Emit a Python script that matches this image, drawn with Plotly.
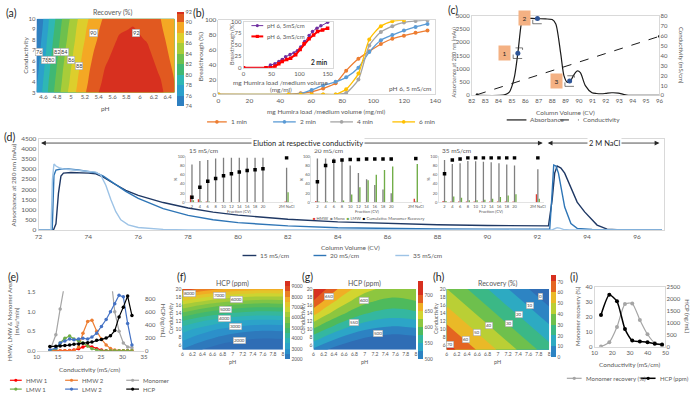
import plotly.graph_objects as go

W, H = 700, 398
def px_x(v): return v / W
def px_y(v): return 1 - v / H
def dx(a, b): return [a / W, b / W]
def dy(t, b): return [1 - b / H, 1 - t / H]

FONT = "Lato, 'Liberation Sans', sans-serif"
TXT = "#595959"
BOX = "#d0d0d0"

CS = [[0.0, '#2f6db5'], [0.14, '#2b9bd1'], [0.28, '#2fb7b4'], [0.42, '#45b860'],
      [0.56, '#8cc63f'], [0.7, '#d9d62e'], [0.84, '#f5a623'], [1.0, '#d7301f']]

# ---------------- (a) recovery surface ----------------
a_ph = [4.5, 4.7, 4.9, 5.1, 5.3, 5.5, 5.7, 5.9, 6.1, 6.3, 6.5]
a_cond = [3, 4, 5, 6, 7, 8, 9, 10]
a_recovery = [
    [76.0, 80.9, 85.1, 88.5, 91.1, 92.9, 93.9, 94.2, 93.7, 92.4, 90.4],
    [75.7, 80.6, 84.7, 88.1, 90.7, 92.5, 93.6, 93.8, 93.3, 92.1, 90.0],
    [75.3, 80.2, 84.4, 87.8, 90.4, 92.2, 93.2, 93.5, 93.0, 91.7, 89.7],
    [75.0, 79.9, 84.0, 87.4, 90.0, 91.8, 92.9, 93.1, 92.6, 91.4, 89.3],
    [74.6, 79.5, 83.7, 87.1, 89.7, 91.5, 92.5, 92.8, 92.3, 91.0, 89.0],
    [74.3, 79.2, 83.3, 86.7, 89.3, 91.1, 92.2, 92.4, 91.9, 90.7, 88.6],
    [73.9, 78.8, 83.0, 86.4, 89.0, 90.8, 91.8, 92.1, 91.6, 90.3, 88.3],
    [73.6, 78.5, 82.6, 86.0, 88.6, 90.4, 91.5, 91.7, 91.2, 90.0, 87.9],
]
a_label_text = ['76', '78', '80', '82', '84', '86', '88', '90', '92']
a_label_at = [(4.54, 6.83), (4.625, 6.1), (4.72, 6.1), (4.79, 6.8), (4.9, 6.8),
              (5.0, 6.05), (5.12, 5.5), (5.32, 8.66), (5.94, 8.66)]

# ---------------- (b) breakthrough ----------------
b_load = [0, 45.3, 53.1, 60.2, 67.6, 75.7, 82.5, 90.4, 97.4, 104.9, 112.3, 119.8, 127.3, 135]
b_1min = [0, 0, 1.5, 3.5, 8, 15, 32, 48, 58, 68, 75, 79, 83, 86]
b_2min = [0, 0, 1, 6, 12, 17, 23, 36, 57, 73, 80, 86, 91, 95]
b_4min = [0, 0, 0, 0, 0, 0, 2, 20, 66, 84, 92, 97, 99, 100]
b_6min = [0, 0, 0, 0, 0, 0, 7, 28, 74, 92, 98.5, 100, None, None]
inset_x_5ms = [0, 40, 48, 56, 63, 69, 75, 83, 90, 96, 102, 109, 117, 123, 131, 138, 150]
inset_y_5ms = [0, 0, 6, 9, 14, 18, 24, 29, 32, 37, 45, 57, 70, 79, 86, 91, 98.6]
inset_x_3ms = [0, 40, 48, 56, 63, 69, 77, 84, 93, 101, 108, 117, 125, 132, 141, 150]
inset_y_3ms = [0, 0, 0, 3.5, 9, 14, 18, 21, 28.5, 40, 52, 63, 71, 78.5, 82, 86]

# ---------------- (c) elution profile ----------------
c_cv = [82.4, 84.1, 84.5, 84.8, 85.0, 85.2, 85.44, 85.69, 85.8, 86.0, 86.5, 87.0, 87.5, 88.0,
        88.27, 88.63, 88.88, 89.13, 89.37, 89.6, 89.86, 90.1, 90.47, 90.97, 91.3, 91.7, 92.0,
        92.44, 92.93, 93.3, 93.67, 94.5, 96]
c_abs = [0, 0, 30, 120, 350, 735, 1590, 2690, 2880, 2910, 2900, 2890, 2880, 2860,
         2690, 1590, 735, 490, 550, 760, 918, 857, 367, 98, 70, 61, 75,
         98, 86, 40, 0, 0, 0]
c_cond_cv = [82.4, 96]
c_cond = [0.7, 59.4]
c_pt_cv = [85.44, 86.9, 89.3]
c_pt_abs = [1590, 2900, 540]
c_pt_label = ['1', '2', '3']

# ---------------- (d) chromatograms ----------------
d15_x = [72, 72.6, 72.7, 72.8, 72.9, 73.0, 73.3, 73.6, 74.0, 74.3, 74.6, 75.0, 75.5, 76, 77, 78,
         79, 80, 81, 82, 84, 86, 88, 90, 92, 92.45, 92.6, 92.7, 92.8, 92.95, 93.1, 93.35, 93.6,
         93.9, 94.2, 94.4, 94.8, 95.2, 97]
d15_y = [0, 0, 300, 1800, 2650, 2800, 2830, 2830, 2800, 2760, 2600, 2300, 1950, 1700, 1350, 1080,
         880, 730, 620, 530, 400, 320, 260, 220, 200, 200, 1500, 2800, 3150, 3050, 2800, 2100, 1370,
         890, 520, 240, 40, 10, 0]
d20_x = [72, 72.55, 72.62, 72.7, 72.9, 73.2, 73.6, 74.0, 74.3, 74.6, 75.0, 75.5, 76, 77, 78, 79,
         80, 82, 84, 86, 88, 90, 92, 92.5, 92.58, 92.66, 92.75, 92.85, 93.1, 93.35, 93.6, 94.2, 97]
d20_y = [0, 0, 2700, 2950, 3000, 3000, 2950, 2880, 2820, 2650, 2300, 1900, 1550, 1050, 720, 500,
         360, 200, 110, 70, 50, 40, 35, 35, 1500, 3200, 3150, 2800, 1130, 320, 80, 20, 0]
d35_x = [72, 72.5, 72.56, 72.62, 72.7, 72.85, 73.0, 73.5, 74.0, 74.3, 74.5, 74.7, 74.9, 75.1,
         75.3, 75.6, 76, 76.5, 77, 78, 92.6, 92.7, 92.8, 92.9, 93.05, 93.3, 97]
d35_y = [0, 0, 2500, 3250, 3150, 3050, 3000, 2950, 2900, 2850, 2700, 2200, 1500, 900,
         500, 250, 120, 60, 30, 0, 0, 60, 110, 90, 30, 0, 0]

fraction_pos = [2, 4, 6, 8, 10, 12, 14, 16, 18, 20, 26]
fraction_lab = ['2', '4', '6', '8', '10', '12', '14', '16', '18', '20', '2M NaCl']
ins15_hmw = [15, 7, 2, 1, 1, 1, 1, 1, 1, 1, 2]
ins15_mono = [82, 90, 92, 95, 97, 97, 97, 97, 97, 97, 75]
ins15_lmw = [5, 2, 2, 1, 1, 1, 1, 1, 1, 1, 22]
ins15_cum = [11, 33, 46, 52, 58, 62, 66, 69, 71, 73, 97]
ins20_hmw = [3, 1, 1, 1, 1, 1, 1, 1, 1, 1, 8]
ins20_mono = [95, 95, 95, 93, 80, 64, 50, 38, 28, 20, 2]
ins20_lmw = [2, 2, 2, 4, 17, 33, 48, 60, 70, 78, 83]
ins20_cum = [45, 80, 89, 92, 93, 93, 94, 94, 94, 94, 95]
ins35_hmw = [3, 2, 2, 2, 2, 2, 2, 2, 2, 2, 18]
ins35_mono = [92, 83, 85, 90, 89, 88, 87, 85, 82, 80, 72]
ins35_lmw = [3, 13, 10, 5, 5, 6, 8, 12, 15, 18, 8]
ins35_cum = [62, 92, 94, 97, 97, 97, 97, 97, 97, 97, 97]

# ---------------- (e) fraction analysis ----------------
e_cond = [13.1, 14.5, 15.5, 16.6, 17.7, 18.7, 19.8, 20.8, 21.9, 22.9, 24.0, 25.1, 26.2,
          27.2, 28.2, 29.2, 30.2, 31.2, 32.2]
e_hmw1 = [0, 0, 0, 0, 0.01, 0.02, 0.05, 0.1, 0.13, 0.1, 0.05, 0.02, 0, 0, 0, 0, 0, 0, 0]
e_hmw2 = [0, 0, 0, 0, 0, 0, 0.1, 0.45, 0.75, 0.78, 0.5, 0.3, 0.15, 0.06, 0.02, 0, 0, 0, 0]
e_mono = [0, 0.41, 1.07, 2.0, 3.5, 4.5, 5.0, 5.0, 5.0, 4.8, 4.5, 4.0, 3.2, 2.0, 1.0, 0.5, 0.2, 0.1, 0.08]
e_lmw1 = [0, 0.05, 0.2, 0.32, 0.38, 0.3, 0.25, 0.2, 0.12, 0.05, 0.02, 0, 0, 0, 0, 0, 0, 0, 0]
e_lmw2 = [0.02, 0.07, 0.2, 0.25, 0.3, 0.28, 0.3, 0.32, 0.3, 0.35, 0.45, 0.62, 0.8, 1.0, 1.2, 1.42, 1.38, 0.7, 0.15]
e_hcp = [65, 70, 75, 82, 88, 100, 105, 115, 125, 135, 160, 175, 195, 230, 310, 520, 670, 840, 540]

# ---------------- (f) HCP surface ----------------
fg_ph = [6, 6.25, 6.5, 6.75, 7, 7.25, 7.5, 7.75, 8]
f_cond = [5, 6, 8, 10, 12, 14, 16, 18, 20]
f_hcp = [
    [2456, 2141, 1876, 1661, 1496, 1381, 1316, 1301, 1336],
    [2706, 2391, 2126, 1911, 1746, 1631, 1566, 1551, 1586],
    [3206, 2891, 2626, 2411, 2246, 2131, 2066, 2051, 2086],
    [3736, 3421, 3156, 2941, 2776, 2661, 2596, 2581, 2616],
    [4456, 4141, 3876, 3661, 3496, 3381, 3316, 3301, 3336],
    [5406, 5091, 4826, 4611, 4446, 4331, 4266, 4251, 4286],
    [6406, 6091, 5826, 5611, 5446, 5331, 5266, 5251, 5286],
    [7556, 7241, 6976, 6761, 6596, 6481, 6416, 6401, 6436],
    [8856, 8541, 8276, 8061, 7896, 7781, 7716, 7701, 7736],
]
f_label_text = ['8000', '7000', '6000', '5000', '4000', '3000', '2000']
f_label_at = [(6.14, 18.8), (6.73, 18.3), (7.08, 17.3), (6.86, 14.9), (6.84, 12.75), (7.06, 10.8), (7.14, 7.4)]

# ---------------- (g) HCP surface ----------------
g_cond = [5, 8, 11, 14, 17, 20]
g_hcp = [
    [519, 501, 485, 473, 464, 458, 455, 456, 459],
    [564, 543, 525, 511, 500, 494, 490, 491, 495],
    [612, 588, 568, 552, 540, 532, 528, 529, 533],
    [659, 631, 609, 591, 577, 569, 564, 565, 570],
    [698, 668, 643, 623, 608, 598, 593, 594, 600],
    [733, 700, 672, 651, 634, 624, 618, 619, 625],
]
g_label_text = ['650', '600', '550', '500']
g_label_at = [(6.31, 18.1), (6.98, 17.1), (6.79, 11.8), (7.25, 8.9)]

# ---------------- (h) recovery surface ----------------
h_ph = [6, 7, 8]
h_cond = [5, 12.5, 20]
h_rec = [
    [74.4, 49.3, 24.3],
    [57.3, 32.2, 7.2],
    [40.2, 15.1, -9.9],
]
h_label_text = ['70', '60', '50', '40', '30', '20', '10', '0']
h_label_at = [(6.06, 6.3), (6.37, 7.5), (6.6, 9.2), (6.83, 10.9), (7.21, 11.4), (7.42, 13.7), (7.63, 15.9), (7.83, 18.1)]

# ---------------- (i) ----------------
i_cond = [13.7, 18.4, 22.7, 27.2, 31.3, 35.6, 39.9, 44.0, 48.1]
i_monomer = [0.2, 3.1, 13.2, 28.6, 29.0, 18.0, 8.4, 2.6, 0.9]
i_hcp = [1330, 2170, 1900, 740, 260, 220, 190, 125, 95]

fig = go.Figure()

def tf(size):
    return dict(size=size, color=TXT, family=FONT)

def cbar(x, yc, length, ticks, size=5.5, thick=6):
    return dict(x=px_x(x), xanchor='left', xpad=0, y=px_y(yc), yanchor='middle', ypad=0,
                len=length / H, lenmode='fraction', thickness=thick, thicknessmode='pixels',
                tickvals=ticks, tickfont=tf(size), outlinewidth=0, ticks='')

# (a)
fig.add_trace(go.Contour(x=a_ph, y=a_cond, z=a_recovery, xaxis='x', yaxis='y', name='Recovery (%)',
    colorscale=CS, zmin=74, zmax=92, autocontour=False,
    contours=dict(start=74, end=92, size=2, coloring='fill', showlines=False),
    line=dict(width=0, smoothing=1.0), hoverinfo='skip',
    colorbar=cbar(175, 56, 96, list(range(74, 93, 2)), 5.5, 7)))

# (b)
B_COLORS = {'1 min': '#ed7d31', '2 min': '#5b9bd5', '4 min': '#a5a5a5', '6 min': '#ffc000'}
for name, ys in [('1 min', b_1min), ('2 min', b_2min), ('4 min', b_4min), ('6 min', b_6min)]:
    col = B_COLORS[name]
    fig.add_trace(go.Scatter(x=b_load, y=ys, xaxis='x2', yaxis='y2', mode='lines+markers', name=name,
        line=dict(color=col, width=1.3, shape='spline', smoothing=0.6), marker=dict(size=4, color=col)))
fig.add_trace(go.Scatter(x=inset_x_5ms, y=inset_y_5ms, xaxis='x3', yaxis='y3', mode='lines+markers',
    name='pH 6, 5mS/cm', line=dict(color='#7030a0', width=1), marker=dict(size=3.5, color='#7030a0')))
fig.add_trace(go.Scatter(x=inset_x_3ms, y=inset_y_3ms, xaxis='x3', yaxis='y3', mode='lines+markers',
    name='pH 6, 3mS/cm', line=dict(color='#ff0000', width=2), marker=dict(size=3.5, color='#ff0000', symbol='square')))

# (c)
fig.add_trace(go.Scatter(x=c_cv, y=c_abs, xaxis='x4', yaxis='y4', mode='lines', name='Absorbance',
    line=dict(color='#1a1a1a', width=1.2, shape='spline', smoothing=0.7)))
fig.add_trace(go.Scatter(x=c_cond_cv, y=c_cond, xaxis='x4', yaxis='y5', mode='lines+markers', name='Conductivity',
    line=dict(color='#1a1a1a', width=1, dash='dash'), marker=dict(size=3, color='#1a1a1a')))
fig.add_trace(go.Scatter(x=c_pt_cv, y=c_pt_abs, xaxis='x4', yaxis='y4', mode='markers', name='fractions',
    marker=dict(size=5, color='#2f5597')))

# (d)
D_COLORS = {'15 mS/cm': '#1f3864', '20 mS/cm': '#2e75b6', '35 mS/cm': '#9dc3e6'}
for name, xs, ys in [('15 mS/cm', d15_x, d15_y), ('20 mS/cm', d20_x, d20_y), ('35 mS/cm', d35_x, d35_y)]:
    fig.add_trace(go.Scatter(x=xs, y=ys, xaxis='x5', yaxis='y6', mode='lines', name=name,
        line=dict(color=D_COLORS[name], width=1.4)))

insets = [(ins15_hmw, ins15_mono, ins15_lmw, ins15_cum), (ins20_hmw, ins20_mono, ins20_lmw, ins20_cum),
          (ins35_hmw, ins35_mono, ins35_lmw, ins35_cum)]
for k, (hm, mo, lm, cu) in enumerate(insets):
    xa, ya = 'x%d' % (6 + k), 'y%d' % (7 + k)
    for ys, col, nm in [(hm, '#e03c31', 'HMW'), (mo, '#7f7f7f', 'Mono'), (lm, '#70ad47', 'LMW')]:
        fig.add_trace(go.Bar(x=fraction_pos, y=ys, xaxis=xa, yaxis=ya, marker=dict(color=col, line=dict(width=0)),
                             name=nm))
    fig.add_trace(go.Scatter(x=fraction_pos, y=cu, xaxis=xa, yaxis=ya, mode='markers',
                             name='Cumulative Monomer Recovery', marker=dict(size=3.5, color='black', symbol='square')))

# (e)
E_COLORS = {'HMW 1': '#ff0000', 'HMW 2': '#ed7d31', 'Monomer': '#a5a5a5', 'LMW 1': '#70ad47',
            'LMW 2': '#4472c4', 'HCP': '#000000'}
for name, ys in [('HMW 1', e_hmw1), ('HMW 2', e_hmw2), ('Monomer', e_mono), ('LMW 1', e_lmw1), ('LMW 2', e_lmw2)]:
    col = E_COLORS[name]
    fig.add_trace(go.Scatter(x=e_cond, y=ys, xaxis='x9', yaxis='y10', mode='lines+markers', name=name,
        line=dict(color=col, width=1.2), marker=dict(size=3.5, color=col)))
fig.add_trace(go.Scatter(x=e_cond, y=e_hcp, xaxis='x9', yaxis='y11', mode='lines+markers', name='HCP',
    line=dict(color='black', width=1.2), marker=dict(size=3.5, color='black')))

# (f) (g) (h)
fig.add_trace(go.Contour(x=fg_ph, y=f_cond, z=f_hcp, xaxis='x10', yaxis='y12', colorscale=CS, name='HCP (ppm)',
    zmin=2000, zmax=9500, autocontour=False,
    contours=dict(start=2000, end=9000, size=500, coloring='fill', showlines=False),
    line=dict(width=0, smoothing=1.0), hoverinfo='skip',
    colorbar=cbar(285, 322, 79, list(range(2000, 9001, 1000)), 4.8, 5)))
fig.add_trace(go.Contour(x=fg_ph, y=g_cond, z=g_hcp, xaxis='x11', yaxis='y13', colorscale=CS, name='HCP (ppm)',
    zmin=500, zmax=745, autocontour=False,
    contours=dict(start=500, end=700, size=25, coloring='fill', showlines=False),
    line=dict(width=0, smoothing=1.0), hoverinfo='skip',
    colorbar=cbar(420, 322, 79, [500, 550, 600, 650, 700], 4.8, 5)))
fig.add_trace(go.Contour(x=h_ph, y=h_cond, z=h_rec, xaxis='x12', yaxis='y14', colorscale=CS, name='Recovery (%)',
    zmin=0, zmax=76, autocontour=False,
    contours=dict(start=0, end=70, size=10, coloring='fill', showlines=False),
    line=dict(width=0, smoothing=1.0), hoverinfo='skip',
    colorbar=cbar(555, 318, 83, list(range(0, 71, 10)), 4.8, 5)))

# (i)
fig.add_trace(go.Scatter(x=i_cond, y=i_monomer, xaxis='x13', yaxis='y15', mode='lines+markers',
    name='Monomer recovery (%)', line=dict(color='#a5a5a5', width=1.2, shape='spline', smoothing=0.6),
    marker=dict(size=4, color='#a5a5a5')))
fig.add_trace(go.Scatter(x=i_cond, y=i_hcp, xaxis='x13', yaxis='y16', mode='lines+markers',
    name='HCP (ppm)', line=dict(color='black', width=1.5, shape='spline', smoothing=0.6),
    marker=dict(size=4, color='black')))

# ---------------- axes ----------------
def ax(domain, rng, anchor, size=6, **kw):
    d = dict(domain=domain, range=rng, anchor=anchor, showgrid=False, zeroline=False, ticks='',
             showline=False, tickfont=tf(size), fixedrange=True)
    d.update(kw)
    return d

boxkw = dict(showline=True, mirror=True, linecolor=BOX, linewidth=0.8)
ph_a = [4.6, 4.8, 5.0, 5.2, 5.4, 5.6, 5.8, 6.0, 6.2, 6.4]
ph_f = [6, 6.2, 6.4, 6.6, 6.8, 7, 7.2, 7.4, 7.6, 7.8, 8]
lay = dict(
    xaxis=ax(dx(33, 173), [4.5, 6.5], 'y', 6, tickvals=ph_a, ticktext=['4.6', '4.8', '5', '5.2', '5.4', '5.6', '5.8', '6', '6.2', '6.4']),
    yaxis=ax(dy(15, 90), [3, 10], 'x', 6, tickvals=list(range(3, 11))),
    xaxis2=ax(dx(217.5, 437.5), [0, 140], 'y2', 6.5, tickvals=list(range(0, 141, 20)), **boxkw),
    yaxis2=ax(dy(16.5, 92), [0, 100], 'x2', 6.5, tickvals=list(range(0, 101, 20)), **boxkw),
    xaxis3=ax(dx(243, 334), [0, 160], 'y3', 6, tickvals=[0, 50, 100, 150], **boxkw),
    yaxis3=ax(dy(18, 65), [0, 100], 'x3', 6, tickvals=[0, 25, 50, 75, 100], **boxkw),
    xaxis4=ax(dx(474.5, 665), [82, 96], 'y4', 6, tickvals=list(range(82, 97)), **boxkw),
    yaxis4=ax(dy(12, 93), [0, 3000], 'x4', 6, tickvals=list(range(0, 3001, 500)), **boxkw),
    yaxis5=ax(dy(12, 93), [0, 80], 'x4', 6, tickvals=list(range(0, 81, 10)), overlaying='y4', side='right'),
    xaxis5=ax(dx(35, 670), [72, 97.1], 'y6', 6.5, tickvals=list(range(72, 97, 2)), **boxkw),
    yaxis6=ax(dy(137, 230), [0, 4500], 'x5', 6.5, tickvals=list(range(0, 4501, 500)), **boxkw),
    xaxis9=ax(dx(33, 142), [10, 35], 'y10', 6, tickvals=[10, 15, 20, 25, 30, 35], showline=True, linecolor=BOX, linewidth=0.8),
    yaxis10=ax(dy(292.5, 353), [0, 1.52], 'x9', 6, tickvals=[0, 0.5, 1.0, 1.5], ticktext=['0.0', '0.5', '1.0', '1.5']),
    yaxis11=ax(dy(292.5, 353), [0, 912], 'x9', 6, tickvals=[0, 200, 400, 600, 800], overlaying='y10', side='right'),
    xaxis10=ax(dx(181, 283), [6, 8], 'y12', 5, tickvals=ph_f),
    yaxis12=ax(dy(290, 352), [5, 20], 'x10', 5, tickvals=list(range(6, 21, 2))),
    xaxis11=ax(dx(314, 418), [6, 8], 'y13', 5, tickvals=ph_f),
    yaxis13=ax(dy(290, 352), [5, 20], 'x11', 5, tickvals=list(range(6, 21, 2))),
    xaxis12=ax(dx(449, 553), [6, 8], 'y14', 5, tickvals=ph_f),
    yaxis14=ax(dy(290, 352), [5, 20], 'x12', 5, tickvals=list(range(6, 21, 2))),
    xaxis13=ax(dx(599, 671), [10, 50], 'y15', 6, tickvals=[10, 20, 30, 40, 50], **boxkw),
    yaxis15=ax(dy(288, 349), [0, 40], 'x13', 6, tickvals=[0, 10, 20, 30, 40], **boxkw),
    yaxis16=ax(dy(288, 349), [0, 2500], 'x13', 6, tickvals=[0, 500, 1000, 1500, 2000, 2500], overlaying='y15', side='right'),
)
ins_dom = [(184.7, 292.7), (311.7, 424), (441, 547.5)]
for k, (l, r) in enumerate(ins_dom):
    lay['xaxis%d' % (6 + k)] = ax(dx(l, r), [0.5, 27.5], 'y%d' % (7 + k), 4, tickvals=fraction_pos,
                                  ticktext=fraction_lab, showline=True, linecolor=BOX, linewidth=0.6)
    lay['yaxis%d' % (7 + k)] = ax(dy(155, 202), [0, 100], 'x%d' % (6 + k), 4, tickvals=[0, 20, 40, 60, 80, 100],
                                  showline=True, linecolor=BOX, linewidth=0.6)

# ---------------- annotations / shapes ----------------
ann = []
shapes = []
def txt(x, y, s, size=6.5, angle=0, color=TXT, xanchor='center', **kw):
    d = dict(x=px_x(x), y=px_y(y), xref='paper', yref='paper', text=s, showarrow=False,
             font=dict(size=size, color=color, family=FONT), textangle=angle,
             xanchor=xanchor, yanchor='middle')
    d.update(kw)
    ann.append(d)

def key(x0, x1, y, color, label, size=6.5, width=1.3, dash=None, marker=None, msize=3.6):
    shapes.append(dict(type='line', xref='paper', yref='paper', x0=px_x(x0), x1=px_x(x1),
                       y0=px_y(y), y1=px_y(y), line=dict(color=color, width=width, dash=dash)))
    if marker:
        r = msize / 2
        xm = (x0 + x1) / 2
        shapes.append(dict(type='circle' if marker == 'circle' else 'rect', xref='paper', yref='paper',
                           x0=px_x(xm - r), x1=px_x(xm + r), y0=px_y(y + r), y1=px_y(y - r),
                           fillcolor=color, line=dict(width=0)))
    txt(x1 + 2, y, label, size, xanchor='left')

for s, x, y in [('(a)', 8, 9), ('(b)', 197, 9), ('(c)', 456, 6), ('(d)', 6, 135), ('(e)', 10, 278),
                ('(f)', 180, 278), ('(g)', 308, 278), ('(h)', 441, 278), ('(i)', 578, 278)]:
    txt(x, y, s, 10.5, color='#262626')

# a
txt(110, 9, 'Recovery (%)', 7)
txt(103, 106, 'pH', 6.5)
txt(21, 52, 'Conductivity', 6.5, -90)
# b
txt(199, 54, 'Breakthrough (%)', 6.5, -90)
txt(327, 109, 'mg Humira load /medium volume (mg/ml)', 6.5)
txt(412, 86, 'pH 6, 5 mS/cm', 6.5)
txt(232, 41, 'Breakthrough (%)', 5.5, -90)
txt(281, 80, 'mg Humira load /medium volume', 6.5)
txt(281, 87, '(mg/ml)', 6.5)
txt(320, 60, '<b>2 min</b>', 6.5, color='#262626')
key(206, 226, 120, B_COLORS['1 min'], '1 min', marker='circle')
key(273, 296, 120, B_COLORS['2 min'], '2 min', marker='circle')
key(331, 354, 120, B_COLORS['4 min'], '4 min', marker='circle')
key(394, 417, 120, B_COLORS['6 min'], '6 min', marker='circle')
key(251, 263, 22, '#7030a0', 'pH 6, 5mS/cm', 6, 1, marker='circle', msize=3.2)
key(251, 263, 33, '#ff0000', 'pH 6, 3mS/cm', 6, 2, marker='rect', msize=3.2)
# c
txt(456, 59, 'Absorbance at 280 nm (mAu)', 5.5, -90)
txt(688, 52, 'Conductivity (mS/cm)', 6, 90)
txt(570, 110, 'Column Volume (CV)', 6.5)
key(510, 530, 118, '#1a1a1a', 'Absorbance', 6.5, 1.2)
key(564, 583, 118, '#1a1a1a', 'Conductivity', 6.5, 1, dash='dash')
# d
txt(10, 184, 'Absorbance at 280 nm (mAu)', 6.5, -90)
txt(352, 248, 'Column Volume (CV)', 6.5)
key(242, 256, 256, D_COLORS['15 mS/cm'], '15 mS/cm', 6.5, 1.4)
key(314, 327, 256, D_COLORS['20 mS/cm'], '20 mS/cm', 6.5, 1.4)
key(397, 411, 256, D_COLORS['35 mS/cm'], '35 mS/cm', 6.5, 1.4)
for (l, r), t in zip(ins_dom, ['15 mS/cm', '20 mS/cm', '35 mS/cm']):
    txt(l + 1, 149, t, 6.5, xanchor='left')
    txt((l + r) / 2, 211, 'Fraction (CV)', 4.2)
    txt(l - 10, 178, '%', 4.2, -90)
txt(370, 218, "<span style='color:#e03c31'>■</span> HMW  <span style='color:#7f7f7f'>■</span> Mono  "
              "<span style='color:#70ad47'>■</span> LMW  <span style='color:#000000'>■</span> Cumulative Monomer Recovery", 4.2)
# e
txt(5, 323, 'HMW, LMW & Monomer Area', 6, -90)
txt(12, 323, '(mAu*min)', 6, -90)
txt(162, 322, 'HCP (ng/mL)', 6, 90)
txt(87, 372, 'Conductivity (mS/cm)', 6.5)
for (lab, x0, x1, y) in [('HMW 1', 6, 18, 383), ('HMW 2', 62, 75, 383), ('Monomer', 124, 137, 383),
                         ('LMW 1', 6, 18, 392), ('LMW 2', 62, 75, 392), ('HCP', 124, 137, 392)]:
    key(x0, x1, y, E_COLORS[lab], lab, 6, 1.2, marker='circle', msize=3.2)
# f g h
txt(232, 284, 'HCP (ppm)', 7)
txt(232, 364, 'pH', 5.5)
txt(170, 320, 'Conductivity', 5.5, -90)
txt(366, 284, 'HCP (ppm)', 7)
txt(366, 364, 'pH', 5.5)
txt(304, 320, 'Conductivity', 5.5, -90)
txt(501, 284, 'Recovery (%)', 7)
txt(501, 364, 'pH', 5.5)
txt(439, 320, 'Conductivity', 5.5, -90)
# i
txt(582, 318, 'Monomer recovery (%)', 6, -90)
txt(694, 318, 'HCP (ng/mL)', 6, 90)
txt(635, 367, 'Conductivity (mS/cm)', 6.5)
key(571, 586, 381, '#a5a5a5', 'Monomer recovery (%)', 6, 1.2, marker='circle', msize=3.4)
key(646, 661, 381, '#000000', 'HCP (ppm)', 6, 1.5, marker='circle', msize=3.4)

# contour labels
def clabels(xr, yr, pos, texts, size):
    for (xv, yv), t in zip(pos, texts):
        ann.append(dict(x=xv, y=yv, xref=xr, yref=yr, text=t, showarrow=False, bgcolor='white',
                        bordercolor='#a0a0a0', borderwidth=0.5, borderpad=0.5,
                        font=dict(size=size, color='#404040', family=FONT)))
clabels('x', 'y', a_label_at, a_label_text, 5.5)
clabels('x10', 'y12', f_label_at, f_label_text, 4.5)
clabels('x11', 'y13', g_label_at, g_label_text, 4.5)
clabels('x12', 'y14', h_label_at, h_label_text, 4.5)

# c boxes
for cv, ab, lab in zip(c_pt_cv, c_pt_abs, c_pt_label):
    ann.append(dict(x=cv - 1.0, y=ab, xref='x4', yref='y4', text=lab, showarrow=False, bgcolor='#f4b183',
                    width=9, height=12, font=dict(size=6.5, color='#262626', family=FONT)))
    shapes.append(dict(type='rect', xref='x4', yref='y4', x0=cv - 0.35, x1=cv + 0.35, y0=ab - 200, y1=ab + 200,
                       line=dict(color='#404040', width=0.7, dash='dash')))

# d arrows
arrow_y = 4280
for x0, xc, x1, label in [(72.1, 82.8, 92.22, 'Elution at respective conductivity'), (92.42, 94.7, 96.9, '2 M NaCl')]:
    for xe in (x0, x1):
        ann.append(dict(x=xe, y=arrow_y, ax=xc, ay=arrow_y, xref='x5', yref='y6', axref='x5', ayref='y6',
                        text='', showarrow=True, arrowhead=2, arrowsize=1.2, arrowwidth=0.8, arrowcolor='#262626'))
    ann.append(dict(x=xc, y=arrow_y, xref='x5', yref='y6', text=label, showarrow=False, bgcolor='white',
                    font=dict(size=7.5, color='#262626', family=FONT)))

lay.update(annotations=ann, shapes=shapes, width=W, height=H, margin=dict(l=0, r=0, t=0, b=0),
           paper_bgcolor='white', plot_bgcolor='white', barmode='group', bargap=0.45, bargroupgap=0.1,
           font=dict(family=FONT, color=TXT), showlegend=False)
fig.update_layout(**lay)
fig.write_html('out.html', config={'displayModeBar': False, 'staticPlot': True},
               post_script="document.body.style.margin='0px'; document.body.style.overflow='hidden';")
